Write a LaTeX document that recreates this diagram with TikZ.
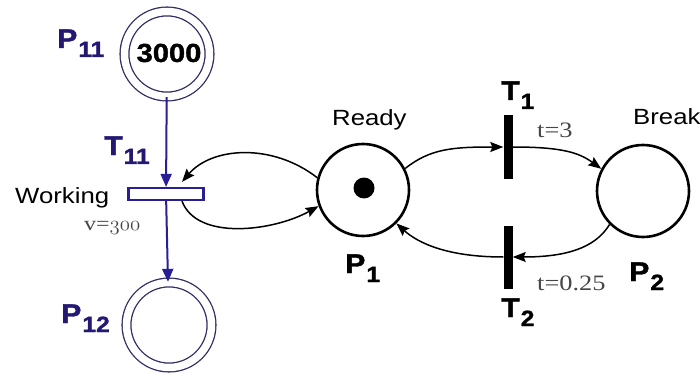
\documentclass[tikz,border=0pt]{standalone}
\usepackage{fontspec}
\setmainfont{Liberation Sans}
\newfontfamily\widesans[FakeStretch=1.17]{Liberation Sans}
\newfontfamily\serifw[FakeStretch=1.2]{Liberation Serif}
\newfontfamily\widebold[FakeStretch=1.12,FakeBold=1.5]{Liberation Sans Bold}
\usetikzlibrary{arrows.meta}
\definecolor{pnblue}{RGB}{40,30,150}
\definecolor{pnnavy}{RGB}{35,25,115}
\definecolor{ringcol}{RGB}{50,45,100}
\definecolor{softgray}{RGB}{70,70,70}
\newcommand\pnlab[2]{{\widebold\fontsize{27}{27}\selectfont #1\kern1pt\raisebox{-9pt}{\fontsize{22}{22}\selectfont #2}}}
\begin{document}
\begin{tikzpicture}[x=1pt,y=-1pt,
  place/.style={circle,draw,line width=2.6pt,minimum size=92pt,inner sep=0pt},
  ring/.style={circle,draw=ringcol,double,double distance=7.5pt,line width=1.3pt,minimum size=85pt,inner sep=0pt},
  bar/.style={rectangle,fill=black,minimum width=9pt,minimum height=63pt,inner sep=0pt},
  cbar/.style={rectangle,draw=pnblue,fill=white,line width=2.2pt,minimum width=75pt,minimum height=12pt,inner sep=0pt},
  arr/.style={line width=1.5pt,-{Stealth[length=13pt,width=10pt,inset=2pt]}},
  barr/.style={draw=pnblue,line width=2pt,-{Triangle[length=13pt,width=11pt]},pnblue},
  lab/.style={anchor=base west,inner sep=0pt,text=pnnavy},
  blab/.style={anchor=base west,inner sep=0pt,text=black},
  txt/.style={anchor=base west,inner sep=0pt,font=\widesans\fontsize{22}{22}\selectfont},
  stxt/.style={anchor=base west,inner sep=0pt,text=softgray,font=\serifw\fontsize{22}{22}\selectfont}]
\useasboundingbox (0,0) rectangle (700,374);
% places
\node[ring] (p11) at (167,54) {};
\node[font=\widebold\fontsize{26}{26}\selectfont] (n3000) at (169,53) {3000};
\node[ring] (p12) at (169,325) {};
\node[place] (p1) at (363,190) {};
\fill (364,188) circle (10.5pt);
\node[place] (p2) at (643,191) {};
% transitions
\node[cbar] (t11) at (166,194) {};
\node[bar] (t1) at (508,147) {};
\node[bar] (t2) at (508,257) {};
% labels
\node[lab] (lp11) at (57,48) {\pnlab{P}{11}};
\node[lab] (lt11) at (104,155) {\pnlab{T}{11}};
\node[lab] (lp12) at (61,323) {\pnlab{P}{12}};
\node[blab] (lp1) at (345,273) {\pnlab{P}{1}};
\node[blab] (lp2) at (629,281) {\pnlab{P}{2}};
\node[blab] (lt1) at (501,100) {\pnlab{T}{1}};
\node[blab] (lt2) at (501,317) {\pnlab{T}{2}};
\node[txt] (ready) at (332,126) {Ready};
\node[txt] (break) at (633,125) {Break};
\node[txt] (working) at (15,203) {Working};
\node[stxt] (tl1) at (537,138) {t=3};
\node[stxt] (tl2) at (537,290) {t=0.25};
\node[anchor=base west,inner sep=0pt,text=softgray,font=\serifw\fontsize{20}{20}\selectfont] (vl) at (84,230) {v=$\mathnormal{300}$};
% blue arcs
\draw[barr] (p11) -- (t11);
\draw[barr] (t11) -- (p12);
% black arcs
\draw[arr] (p1.27) .. controls +(25,-20) and +(-50,0) .. (t1.west);
\draw[arr] (t1.east) .. controls +(50,0) and +(-22,-16) .. (p2.152);
\draw[arr] (p2.225) .. controls +(-15,25) and +(50,0) .. (t2.east);
\draw[arr] (t2.west) .. controls +(-55,0) and +(22,20) .. (p1.-45);
\draw[arr] (p1.165) .. controls +(-45,-35) and +(30,-35) .. ([xshift=16pt,yshift=5pt]t11.north);
\draw[arr] ([xshift=16pt]t11.south) .. controls +(15,40) and +(-45,25) .. (p1.200);
\end{tikzpicture}
\end{document}
